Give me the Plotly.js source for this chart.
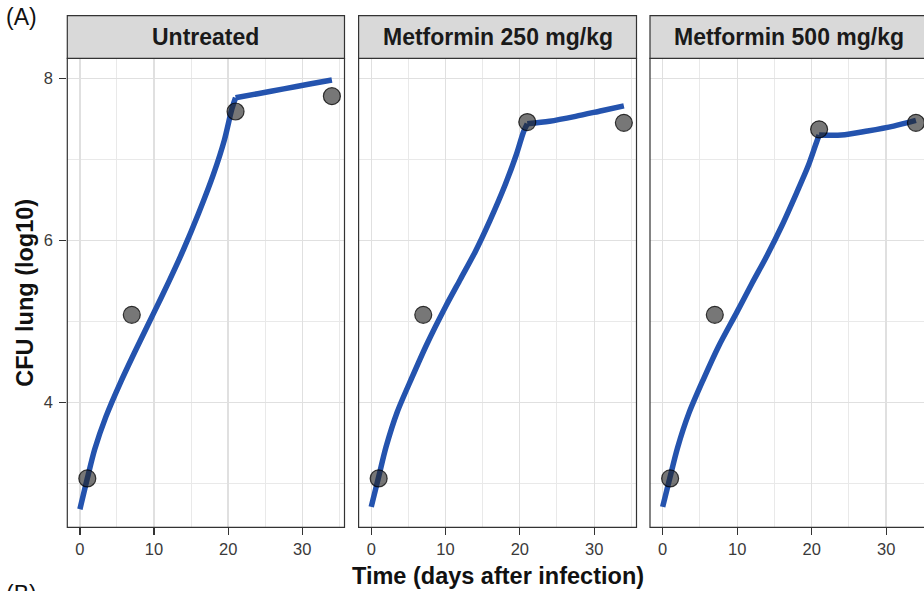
<!DOCTYPE html>
<html>
<head>
<meta charset="utf-8">
<script src="https://cdn.plot.ly/plotly-3.0.1.min.js"></script>
<style>html,body{margin:0;padding:0;background:#fff;}#chart{width:924px;height:591px;}</style>
</head>
<body>
<div id="chart"></div>
<script>
// ---- data ----
const panels = ["Untreated", "Metformin 250 mg/kg", "Metformin 500 mg/kg"];
const obsDays = [1, 7, 21, 34];
const obsUntreated = [3.06, 5.08, 7.59, 7.78];
const obs250 = [3.06, 5.08, 7.46, 7.45];
const obs500 = [3.06, 5.08, 7.37, 7.45];

const fitDays = [0, 1, 2, 3.5, 5.5, 7.5, 10, 12, 14, 16, 18, 19.5, 20.5, 21, 24, 27.5, 31, 34];
const fitUntreated = [2.68, 3.06, 3.42, 3.82, 4.25, 4.64, 5.11, 5.49, 5.89, 6.33, 6.81, 7.24, 7.62, 7.76, 7.81, 7.87, 7.93, 7.98];
const fit250 = [2.71, 3.08, 3.45, 3.88, 4.31, 4.72, 5.18, 5.52, 5.86, 6.25, 6.68, 7.05, 7.34, 7.44, 7.47, 7.53, 7.60, 7.66];
const fit500 = [2.71, 3.08, 3.44, 3.86, 4.29, 4.69, 5.12, 5.47, 5.81, 6.18, 6.59, 6.91, 7.17, 7.30, 7.30, 7.35, 7.41, 7.48];
const kinkDay = 21;

const xTitle = "Time (days after infection)";
const yTitle = "CFU lung (log10)";

// ---- layout geometry ----
const W = 924, H = 591;
const px = v => v / W;
const py = v => (H - v) / H;
const panelLeft = [67.3, 358.6, 650];
const panelRight = [344.5, 636.5, 928.6];
const plotTop = 58.3, plotBottom = 527.3, stripTop = 15.7;
const xRange = [-1.7, 35.7];
const yRange = [2.457, 8.247];

const FONT = "Liberation Sans, Arial, Helvetica, sans-serif";
const lineColor = "#2453ae";
const obsSets = [obsUntreated, obs250, obs500];
const fitSets = [fitUntreated, fit250, fit500];
const k = fitDays.indexOf(kinkDay);

const traces = [];
const layout = {
  width: W, height: H,
  margin: {l: 0, r: 0, t: 0, b: 0},
  paper_bgcolor: "#ffffff", plot_bgcolor: "#ffffff",
  showlegend: false,
  font: {family: FONT, color: "#333333"},
  shapes: [], annotations: []
};

panels.forEach((name, i) => {
  const sfx = i === 0 ? "" : String(i + 1);
  const xa = "x" + sfx, ya = "y" + sfx;
  // fitted curve, drawn as two smooth pieces that meet at the kink
  traces.push({
    x: fitDays.slice(0, k + 1), y: fitSets[i].slice(0, k + 1), xaxis: xa, yaxis: ya,
    type: "scatter", mode: "lines",
    line: {color: lineColor, width: 5.5, shape: "spline", smoothing: 0.8},
    hoverinfo: "skip"
  });
  traces.push({
    x: fitDays.slice(k), y: fitSets[i].slice(k), xaxis: xa, yaxis: ya,
    type: "scatter", mode: "lines",
    line: {color: lineColor, width: 5.5, shape: "spline", smoothing: 0.8},
    hoverinfo: "skip"
  });
  traces.push({
    x: obsDays, y: obsSets[i], xaxis: xa, yaxis: ya,
    type: "scatter", mode: "markers",
    marker: {size: 17, color: "rgba(35,35,35,0.62)", line: {color: "rgba(0,0,0,0.75)", width: 1.2}},
    hoverinfo: "skip", cliponaxis: false
  });

  const xDomRight = Math.min(1, px(panelRight[i]));
  const widthPx = Math.min(panelRight[i], W) - panelLeft[i];
  const fullWidthPx = panelRight[i] - panelLeft[i];
  const rangeEnd = xRange[0] + (xRange[1] - xRange[0]) * widthPx / fullWidthPx;

  layout["xaxis" + sfx] = {
    domain: [px(panelLeft[i]), xDomRight],
    anchor: ya, range: [xRange[0], rangeEnd],
    tickmode: "linear", tick0: 0, dtick: 10,
    ticks: "outside", ticklen: 7, tickwidth: 1.2, tickcolor: "#333333",
    tickfont: {family: FONT, size: 16.5, color: "#3a3a3a"},
    showgrid: true, gridcolor: "#e0e0e0", gridwidth: 1.3,
    minor: {dtick: 5, tick0: 0, showgrid: true, gridcolor: "#e9e9e9", gridwidth: 1.0, ticks: ""},
    zeroline: false, showline: false, fixedrange: true
  };
  layout["yaxis" + sfx] = {
    domain: [py(plotBottom), py(plotTop)],
    anchor: xa, range: yRange,
    tickmode: "linear", tick0: 0, dtick: 2,
    ticks: i === 0 ? "outside" : "", ticklen: 7, tickwidth: 1.2, tickcolor: "#333333",
    showticklabels: i === 0, ticklabelstandoff: 3,
    tickfont: {family: FONT, size: 16.5, color: "#3a3a3a"},
    showgrid: true, gridcolor: "#e0e0e0", gridwidth: 1.3,
    minor: {dtick: 1, tick0: 0, showgrid: true, gridcolor: "#e9e9e9", gridwidth: 1.0, ticks: ""},
    zeroline: false, showline: false, fixedrange: true
  };

  // panel border
  layout.shapes.push({
    type: "rect", xref: "paper", yref: "paper", layer: "above",
    x0: px(panelLeft[i]), x1: px(panelRight[i]), y0: py(plotBottom), y1: py(plotTop),
    line: {color: "#333333", width: 1.2}, fillcolor: "rgba(0,0,0,0)"
  });
  // strip
  layout.shapes.push({
    type: "rect", xref: "paper", yref: "paper", layer: "above",
    x0: px(panelLeft[i]), x1: px(panelRight[i]), y0: py(plotTop), y1: py(stripTop),
    line: {color: "#333333", width: 1.2}, fillcolor: "#d9d9d9"
  });
  layout.annotations.push({
    xref: "paper", yref: "paper",
    x: px((panelLeft[i] + panelRight[i]) / 2), y: py((plotTop + stripTop) / 2),
    xanchor: "center", yanchor: "middle", showarrow: false,
    text: "<b>" + name + "</b>",
    font: {family: FONT, size: 23, color: "#1a1a1a"}
  });
});

layout.annotations.push({
  xref: "paper", yref: "paper", x: px((panelLeft[0] + panelRight[2]) / 2), y: py(576),
  xanchor: "center", yanchor: "middle", showarrow: false,
  text: "<b>" + xTitle + "</b>", font: {family: FONT, size: 23.5, color: "#111111"}
});
layout.annotations.push({
  xref: "paper", yref: "paper", x: px(25), y: py((plotTop + plotBottom) / 2),
  xanchor: "center", yanchor: "middle", showarrow: false, textangle: -90,
  text: "<b>" + yTitle + "</b>", font: {family: FONT, size: 23.5, color: "#111111"}
});
layout.annotations.push({
  xref: "paper", yref: "paper", x: px(4), y: py(17),
  xanchor: "left", yanchor: "middle", showarrow: false,
  text: "(A)", font: {family: FONT, size: 23, color: "#111111"}
});
layout.annotations.push({
  xref: "paper", yref: "paper", x: px(4), y: py(594),
  xanchor: "left", yanchor: "middle", showarrow: false,
  text: "(B)", font: {family: FONT, size: 23, color: "#111111"}
});

Plotly.newPlot("chart", traces, layout, {staticPlot: true, displayModeBar: false});
</script>
</body>
</html>
